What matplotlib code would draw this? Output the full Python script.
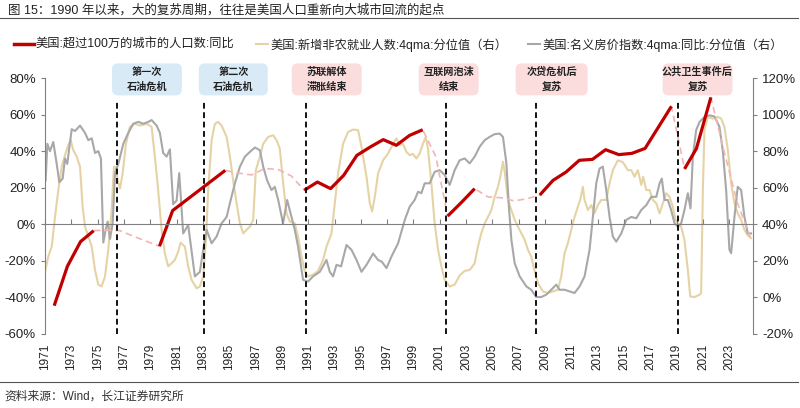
#!/usr/bin/env python3

import numpy as np
import matplotlib
matplotlib.use('Agg')
import matplotlib.pyplot as plt
import matplotlib.patches as patches
from matplotlib.lines import Line2D

plt.rcParams['font.family'] = ['Liberation Sans', 'Noto Sans CJK SC', 'DejaVu Sans']
plt.rcParams['axes.unicode_minus'] = False

# ---- data -------------------------------------------------------------
# US: population of cities > 1m, yoy (left axis)
pop_years = [1971.7, 1972.7, 1973.7, 1974.7, 1975.7, 1976.7, 1977.7, 1978.7,
             1979.7, 1980.7, 1981.7, 1982.7, 1983.7, 1984.7, 1985.7, 1986.7,
             1987.7, 1988.7, 1989.7, 1990.7, 1991.7, 1992.7, 1993.7, 1994.7,
             1995.7, 1996.7, 1997.7, 1998.7, 1999.7, 2000.7, 2001.6, 2002.65,
             2003.65, 2004.65, 2005.65, 2006.65, 2007.65, 2008.6, 2009.6,
             2010.6, 2011.6, 2012.6, 2013.6, 2014.6, 2015.6, 2016.6, 2017.6,
             2018.6, 2019.6, 2020.5, 2021.6, 2022.6, 2023.6, 2024.6]
pop_vals = [-44.5, -23, -9.5, -3.5, -3.2, -3.5, -6.5, -9.3,
            -12, 7.5, 13, 18.5, 24, 29.5, 28, 27,
            30.5, 30, 26.5, 18.6, 23.1, 19.5, 26.8, 37.7,
            42.2, 46.3, 43.2, 48.6, 51.7, 37, 4.5, 12,
            19.5, 15, 14.5, 12.8, 14, 16, 24,
            28.6, 35, 35.5, 40.8, 38.1, 38.8, 41.5, 53,
            64.5, 30.3, 41.4, 69.4, 40, 12, -7]
# highlighted (solid red) stretches
red_spans = [(1971.7, 1974.7), (1979.7, 1984.7), (1990.7, 1999.7),
             (2001.6, 2003.65), (2008.6, 2018.6), (2019.6, 2021.6)]

# US: nonfarm payrolls added, 4qma, percentile (right axis)
nfp_years = [1971.0, 1971.25, 1971.51, 1971.76, 1972.01, 1972.27, 1972.52, 1972.77,
             1972.95, 1973.15, 1973.41, 1973.66, 1973.86, 1974.04, 1974.29, 1974.55,
             1974.8, 1975.05, 1975.3, 1975.56, 1975.81, 1976.06, 1976.24, 1976.4,
             1976.52, 1976.7, 1976.9, 1977.15, 1977.45, 1977.83, 1978.21, 1978.72,
             1979.1, 1979.35, 1979.6, 1979.86, 1980.11, 1980.36, 1980.62, 1980.87,
             1981.12, 1981.3, 1981.63, 1981.88, 1982.14, 1982.52, 1982.77, 1983.02,
             1983.23, 1983.4, 1983.66, 1983.91, 1984.16, 1984.42, 1984.8, 1985.05,
             1985.3, 1985.56, 1985.81, 1986.06, 1986.32, 1986.57, 1986.82, 1987.02,
             1987.33, 1987.58, 1987.96, 1988.34, 1988.59, 1988.84, 1989.1, 1989.35,
             1989.6, 1989.98, 1990.23, 1990.49, 1990.75, 1990.99, 1991.37, 1991.75,
             1992.13, 1992.39, 1992.77, 1993.02, 1993.27, 1993.65, 1994.03, 1994.41,
             1994.79, 1995.05, 1995.43, 1995.68, 1995.86, 1996.06, 1996.31, 1996.69,
             1997.07, 1997.45, 1997.7, 1997.96, 1998.2, 1998.46, 1998.71, 1998.96,
             1999.22, 1999.47, 1999.72, 1999.93, 2000.1, 2000.36, 2000.61, 2000.87,
             2001.12, 2001.37, 2001.75, 2002.13, 2002.51, 2002.89, 2003.27, 2003.65,
             2003.9, 2004.15, 2004.41, 2004.66, 2004.92, 2005.17, 2005.42, 2005.6,
             2005.8, 2005.95, 2006.18, 2006.44, 2006.69, 2006.94, 2007.2, 2007.45,
             2007.7, 2007.95, 2008.21, 2008.46, 2008.84, 2009.22, 2009.6, 2009.98,
             2010.23, 2010.48, 2010.73, 2010.99, 2011.24, 2011.49, 2011.67, 2011.87,
             2012.0, 2012.25, 2012.51, 2012.76, 2013.01, 2013.27, 2013.65, 2013.9,
             2014.15, 2014.53, 2014.91, 2015.29, 2015.55, 2015.8, 2016.05, 2016.31,
             2016.45, 2016.69, 2016.94, 2017.19, 2017.45, 2017.7, 2017.95, 2018.21,
             2018.46, 2018.71, 2018.91, 2019.09, 2019.34, 2019.59, 2019.85, 2020.03,
             2020.36, 2020.74, 2020.86, 2020.99, 2021.11, 2021.37, 2021.75, 2022.13,
             2022.38, 2022.63, 2022.89, 2023.14, 2023.39, 2023.64, 2023.9, 2024.15,
             2024.4, 2024.65]
nfp_vals = [14, 22.4, 27.8, 44, 58.7, 71.5, 77.8, 83.3,
            86, 80.5, 77, 71.5, 49.6, 38.7, 33.3, 27.8,
            15, 7, 6, 11.5, 26, 47.8, 71.5, 71,
            64, 59.6, 67.8, 84, 93.3, 95, 94, 95,
            93.3, 77, 58.7, 37, 24, 17, 18.7, 20.5,
            25, 30, 27.8, 17, 9.6, 5, 6, 11.5,
            31.5, 58.7, 86, 95, 96, 94, 87.8, 77,
            64, 51.5, 40.5, 35, 37, 38.7, 42.4, 69.6,
            77, 84, 87.8, 88.7, 86, 81.5, 62.4, 46,
            41.5, 40.5, 33.3, 22.4, 14, 11.5, 12.4, 14.5,
            20.5, 27.8, 35, 51.5, 67.8, 84, 90.5, 91.8,
            91.5, 82.4, 66, 51.5, 47, 55, 67.8, 75,
            78.7, 84, 87, 83.3, 84, 79.6, 77.8, 78.5,
            76, 78.7, 84, 87.8, 81.5, 62.4, 40.5, 26,
            17, 9.6, 6, 7, 12, 14.5, 15, 18.7,
            27.8, 35, 40.5, 44, 47.8, 55, 60.5, 66,
            74.2, 67.8, 53.3, 47.8, 42.4, 38.7, 35, 31.5,
            26, 22.4, 14.2, 7.8, 3.3, 2.4, 3.3, 4.2,
            11.5, 24.2, 29.6, 37, 44, 49.6, 53.3, 60.5,
            53.3, 47.8, 50.5, 46, 50.5, 53.3, 53.3, 62.4,
            69.6, 75, 74, 69.6, 69.6, 66, 69.6, 61.5,
            66, 58.7, 58.7, 53.3, 51.5, 46, 51.5, 57,
            55, 49.6, 42.4, 40.5, 38.7, 31.5, 15, 0.5,
            0.2, 1.5, 2.4, 58.7, 91.5, 98.7, 97.8, 98.7,
            97.8, 93.3, 80.5, 62.4, 51.5, 46, 42.4, 37,
            34, 32.4]

# US: nominal house price index, 4qma, yoy, percentile (right axis)
hpi_years = [1971.05, 1971.18, 1971.38, 1971.63, 1971.89, 1972.09, 1972.34, 1972.52,
             1972.69, 1973.03, 1973.28, 1973.66, 1974.04, 1974.29, 1974.55, 1974.8,
             1975.05, 1975.25, 1975.43, 1975.61, 1975.76, 1975.94, 1976.14, 1976.32,
             1976.57, 1976.95, 1977.33, 1977.71, 1978.09, 1978.47, 1978.85, 1979.1,
             1979.48, 1979.73, 1979.98, 1980.24, 1980.49, 1980.74, 1981.0, 1981.2,
             1981.5, 1981.88, 1982.39, 1982.77, 1983.02, 1983.28, 1983.66, 1984.04,
             1984.42, 1984.8, 1985.05, 1985.43, 1985.81, 1986.19, 1986.57, 1986.95,
             1987.33, 1987.58, 1987.88, 1988.21, 1988.46, 1988.72, 1989.09, 1989.4,
             1989.73, 1989.98, 1990.23, 1990.61, 1990.99, 1991.37, 1991.88, 1992.39,
             1992.64, 1992.89, 1993.15, 1993.5, 1993.91, 1994.29, 1994.67, 1995.05,
             1995.43, 1995.93, 1996.31, 1996.6, 1996.95, 1997.33, 1997.83, 1998.34,
             1998.71, 1999.09, 1999.35, 1999.6, 1999.85, 2000.23, 2000.61, 2000.99,
             2001.37, 2001.75, 2002.13, 2002.51, 2002.89, 2003.27, 2003.65, 2004.03,
             2004.41, 2004.79, 2005.17, 2005.55, 2005.8, 2006.06, 2006.25, 2006.44,
             2006.69, 2007.07, 2007.58, 2007.95, 2008.33, 2008.71, 2009.09, 2009.47,
             2009.85, 2010.1, 2010.48, 2010.86, 2011.24, 2011.62, 2012.0, 2012.38,
             2012.63, 2012.89, 2013.14, 2013.39, 2013.65, 2013.9, 2014.15, 2014.41,
             2014.79, 2015.17, 2015.55, 2015.93, 2016.31, 2016.69, 2017.07, 2017.45,
             2017.7, 2017.87, 2018.08, 2018.33, 2018.58, 2018.84, 2019.09, 2019.34,
             2019.59, 2019.85, 2020.05, 2020.23, 2020.48, 2020.74, 2021.11, 2021.49,
             2021.87, 2022.25, 2022.5, 2022.76, 2023.01, 2023.14, 2023.39, 2023.64,
             2023.9, 2024.15, 2024.4, 2024.65]
hpi_vals = [64, 84, 80, 85, 73, 63, 65, 76,
            73, 92, 91, 94, 90, 86, 87, 79,
            80, 76, 30, 37, 41.5, 32, 40.5, 68,
            73, 84, 90, 95, 96, 95, 96, 97,
            94, 90, 79, 77, 81, 51, 53, 68,
            35, 39.6, 11.5, 14, 26, 37, 29.6, 33.3,
            40.5, 44, 51.5, 62.4, 71.5, 77, 79.6, 82,
            80.5, 71.5, 64, 58.7, 60.5, 53.3, 40.5, 53.3,
            44, 37, 27.8, 9.6, 8.7, 11.5, 14, 20.5,
            14, 11.5, 17.8, 17, 28.7, 26, 20.5, 14,
            17.8, 24, 20.5, 19.5, 16, 22.4, 29.6, 42.4,
            49.6, 53.3, 57.8, 57, 62.4, 62.4, 68.7, 69.6,
            67, 61.5, 69.6, 75, 76, 73.3, 77, 82.4,
            86, 87.8, 89.3, 89.6, 87.8, 73.3, 49.6, 31.5,
            18.7, 11.5, 6, 4.2, 0.2, 0.2, 1.5, 4.2,
            7, 4.2, 4.2, 3.3, 2.4, 6, 11.5, 26,
            44, 62.4, 70.5, 71.5, 58.7, 44, 33.3, 30.5,
            35, 42.4, 44, 43.3, 47.8, 50.5, 55, 55,
            62.4, 65, 53.3, 53.3, 47.8, 40.5, 38.7, 40.5,
            47.8, 57, 48.7, 77, 91.5, 96, 98.7, 99.6,
            99, 93.3, 80.5, 58.7, 26, 24.2, 44, 60.5,
            58.7, 44, 35, 35]

event_years = [1976.45, 1983.07, 1990.87, 2001.5, 2008.3, 2019.12]
box_texts = ['第一次\n石油危机', '第二次\n石油危机', '苏联解体\n滞胀结束',
             '互联网泡沫\n结束', '次贷危机后\n复苏', '公共卫生事件后\n复苏']
box_spans = [(1976.09, 1981.4), (1982.69, 1987.93), (1989.75, 1995.07),
             (1999.4, 2003.95), (2006.76, 2012.23), (2017.93, 2023.24)]
box_colors = ['#D9EAF7', '#D9EAF7', '#FBDDDD', '#FBDDDD', '#FBDDDD', '#FBDDDD']

labels = ['美国:超过100万的城市的人口数:同比',
          '美国:新增非农就业人数:4qma:分位值（右）',
          '美国:名义房价指数:4qma:同比:分位值（右）']
title = '图 15：1990 年以来，大的复苏周期，往往是美国人口重新向大城市回流的起点'
source = '资料来源：Wind，长江证券研究所'

red = '#C00000'
pink = '#F2B5B5'
tan = '#E5D3A6'
grey = '#A8A8A8'

# ---- figure -----------------------------------------------------------
fig = plt.figure(figsize=(8, 4.08), dpi=100)
ax = fig.add_axes([0.05625, 0.1814, 0.885, 0.6274])
ax2 = ax.twinx()

ax2.plot(nfp_years, nfp_vals, color=tan, lw=1.5)
ax2.plot(hpi_years, hpi_vals, color=grey, lw=1.5)

pop_years = np.array(pop_years)
pop_vals = np.array(pop_vals)
ax.plot(pop_years, pop_vals, color=pink, lw=1.2, ls=(0, (4, 2.5)))
for a, b in red_spans:
    m = (pop_years >= a - 0.01) & (pop_years <= b + 0.01)
    ax.plot(pop_years[m], pop_vals[m], color=red, lw=2.3, solid_capstyle='butt')

ax.vlines(event_years, -60, 67, colors='black', lw=1.3, linestyles=(0, (3.2, 2)))

# labelled boxes above the event lines
for (x0, x1), txt, c in zip(box_spans, box_texts, box_colors):
    box = patches.FancyBboxPatch((x0, 70.5), x1 - x0, 17.5,
                                 boxstyle='round,pad=0,rounding_size=0.45',
                                 mutation_aspect=7.2, fc=c, ec='none',
                                 clip_on=False, zorder=5)
    ax.add_patch(box)
    ax.text((x0 + x1) / 2, 79.2, txt, ha='center', va='center', fontsize=7.3,
            fontweight='bold', linespacing=1.65, color='#222222',
            clip_on=False, zorder=6)

ax.set_zorder(ax2.get_zorder() + 1)
ax.patch.set_visible(False)

ax.set_xlim(1971, 2024.8)
ax.set_ylim(-60, 80)
ax2.set_ylim(-20, 120)

ax.set_yticks(np.arange(-60, 81, 20))
ax.set_yticklabels(['%d%%' % v for v in np.arange(-60, 81, 20)])
ax2.set_yticks(np.arange(-20, 121, 20))
ax2.set_yticklabels(['%d%%' % v for v in np.arange(-20, 121, 20)])

years = np.arange(1971, 2024, 2)
ax.set_xticks(years)
ax.spines['bottom'].set_position(('data', 0))
ax.tick_params(axis='x', direction='in', length=3.5, color='#808080',
               labelbottom=False)
sec = ax.secondary_xaxis(0.0)
sec.set_xticks(years)
sec.set_xticklabels([str(y) for y in years], rotation=90, fontsize=8.5,
                    color='#222222')
sec.tick_params(length=0, pad=7)
sec.spines['bottom'].set_visible(False)

for s in ['top', 'right']:
    ax.spines[s].set_visible(False)
for s in ['top', 'left', 'bottom']:
    ax2.spines[s].set_visible(False)
ax.spines['left'].set_color('#808080')
ax.spines['bottom'].set_color('#808080')
ax2.spines['right'].set_color('#808080')
ax.tick_params(axis='y', length=3, color='#808080', labelsize=9.5,
               labelcolor='#222222')
ax2.tick_params(axis='y', length=3, color='#808080', labelsize=9.5,
                labelcolor='#222222')

# one legend per entry, placed like the reference row
handles = [Line2D([], [], color=red, lw=2.5),
           Line2D([], [], color=tan, lw=1.5),
           Line2D([], [], color=grey, lw=1.5)]
leg_x = [0.012, 0.314, 0.654]
leg_len = [1.6, 1.0, 1.0]
for h, lab, lx, hl in zip(handles, labels, leg_x, leg_len):
    fig.legend([h], [lab], loc='center left', bbox_to_anchor=(lx, 0.89),
               frameon=False, fontsize=8.8, handlelength=hl,
               handletextpad=0.15, borderaxespad=0, labelcolor='#222222')

fig.text(0.01, 0.975, title, fontsize=9, va='center', color='#222222')
fig.add_artist(Line2D([0, 0.997], [0.955, 0.955], transform=fig.transFigure,
                      color='#555555', lw=0.8))
fig.add_artist(Line2D([0, 0.997], [0.064, 0.064], transform=fig.transFigure,
                      color='#555555', lw=0.8))
fig.text(0.005, 0.027, source, fontsize=8.5, va='center', color='#333333')

fig.savefig('out.png', dpi=100)
